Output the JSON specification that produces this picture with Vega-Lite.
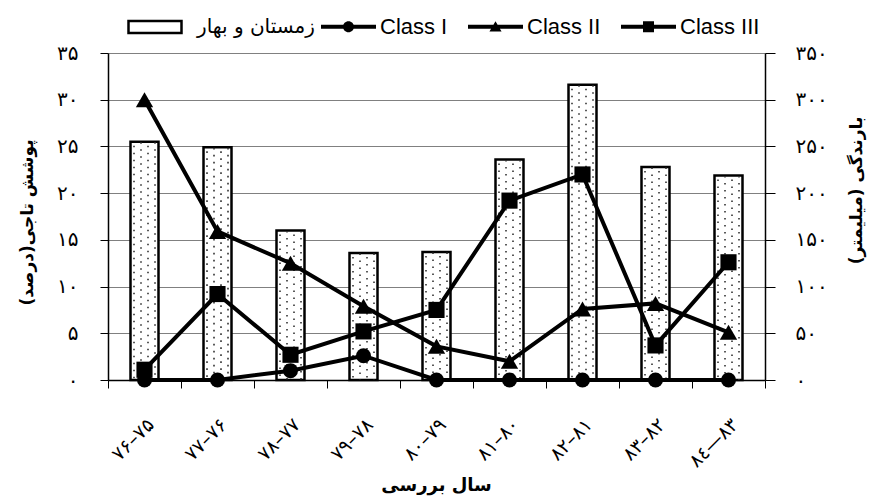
{
  "$schema": "https://vega.github.io/schema/vega-lite/v6.json",
  "width": 657,
  "height": 327,
  "autosize": {"type": "none"},
  "padding": {"left": 108, "top": 53, "right": 112, "bottom": 118},
  "background": "white",
  "config": {
    "font": "Liberation Sans, DejaVu Sans",
    "view": {"stroke": null},
    "axis": {"labelColor": "black", "titleColor": "black", "domainColor": "black", "tickColor": "black"}
  },
  "datasets": {
    "rain": [
      {"period": "۷۶–۷۵", "rain": 255, "type": "زمستان و بهار"},
      {"period": "۷۷–۷۶", "rain": 249, "type": "زمستان و بهار"},
      {"period": "۷۸–۷۷", "rain": 160, "type": "زمستان و بهار"},
      {"period": "۷۹–۷۸", "rain": 136, "type": "زمستان و بهار"},
      {"period": "۸۰–۷۹", "rain": 137, "type": "زمستان و بهار"},
      {"period": "۸۱–۸۰", "rain": 236, "type": "زمستان و بهار"},
      {"period": "۸۲–۸۱", "rain": 316, "type": "زمستان و بهار"},
      {"period": "۸۳–۸۲", "rain": 228, "type": "زمستان و بهار"},
      {"period": "۸٤—۸۳", "rain": 219, "type": "زمستان و بهار"}
    ],
    "cover": [
      {"period": "۷۶–۷۵", "series": "Class I", "value": 0},
      {"period": "۷۷–۷۶", "series": "Class I", "value": 0},
      {"period": "۷۸–۷۷", "series": "Class I", "value": 1.0},
      {"period": "۷۹–۷۸", "series": "Class I", "value": 2.6},
      {"period": "۸۰–۷۹", "series": "Class I", "value": 0},
      {"period": "۸۱–۸۰", "series": "Class I", "value": 0},
      {"period": "۸۲–۸۱", "series": "Class I", "value": 0},
      {"period": "۸۳–۸۲", "series": "Class I", "value": 0},
      {"period": "۸٤—۸۳", "series": "Class I", "value": 0},
      {"period": "۷۶–۷۵", "series": "Class II", "value": 30.0},
      {"period": "۷۷–۷۶", "series": "Class II", "value": 15.9},
      {"period": "۷۸–۷۷", "series": "Class II", "value": 12.5},
      {"period": "۷۹–۷۸", "series": "Class II", "value": 7.9},
      {"period": "۸۰–۷۹", "series": "Class II", "value": 3.6},
      {"period": "۸۱–۸۰", "series": "Class II", "value": 2.0},
      {"period": "۸۲–۸۱", "series": "Class II", "value": 7.6},
      {"period": "۸۳–۸۲", "series": "Class II", "value": 8.2},
      {"period": "۸٤—۸۳", "series": "Class II", "value": 5.1},
      {"period": "۷۶–۷۵", "series": "Class III", "value": 1.1},
      {"period": "۷۷–۷۶", "series": "Class III", "value": 9.2},
      {"period": "۷۸–۷۷", "series": "Class III", "value": 2.7},
      {"period": "۷۹–۷۸", "series": "Class III", "value": 5.2},
      {"period": "۸۰–۷۹", "series": "Class III", "value": 7.5},
      {"period": "۸۱–۸۰", "series": "Class III", "value": 19.2},
      {"period": "۸۲–۸۱", "series": "Class III", "value": 22.0},
      {"period": "۸۳–۸۲", "series": "Class III", "value": 3.7},
      {"period": "۸٤—۸۳", "series": "Class III", "value": 12.6}
    ]
  },
  "encoding": {
    "x": {
      "field": "period",
      "type": "nominal",
      "sort": null,
      "scale": {"paddingInner": 0, "paddingOuter": 0},
      "axis": {
        "title": "سال بررسی",
        "titleFontSize": 18,
        "titleFontWeight": "bold",
        "titleFont": "DejaVu Sans",
        "titleX": 328,
        "titleY": 105,
        "titleAlign": "center",
        "titleBaseline": "middle",
        "labelAngle": 315,
        "labelFontSize": 19,
        "labelFont": "DejaVu Sans",
        "labelPadding": 27,
        "domainWidth": 1.5,
        "tickSize": 8,
        "tickWidth": 1,
        "bandPosition": 1,
        "tickExtra": true,
        "grid": false
      }
    }
  },
  "layer": [
    {
      "data": {"name": "rain"},
      "encoding": {
        "y": {
          "field": "rain",
          "type": "quantitative",
          "scale": {"domain": [0, 350], "nice": false},
          "axis": {
            "orient": "right",
            "values": [0, 50, 100, 150, 200, 250, 300, 350],
            "grid": false,
            "domainWidth": 1.5,
            "tickSize": 10,
            "labelPadding": 20,
            "labelAlign": "left",
            "labelFontSize": 20,
            "labelFont": "DejaVu Sans",
            "labelExpr": "replace(replace(replace(replace(replace(datum.label, regexp('0','g'), '۰'), regexp('1','g'), '۱'), regexp('2','g'), '۲'), regexp('3','g'), '۳'), regexp('5','g'), '۵')",
            "title": "بارندگی (میلیمتر)",
            "titleFont": "DejaVu Sans",
            "titleFontSize": 17,
            "titleFontWeight": "bold",
            "titleAngle": 270,
            "titleX": 91,
            "titleY": 137,
            "titleAlign": "center",
            "titleBaseline": "middle"
          }
        }
      },
      "layer": [
        {
          "mark": {"type": "bar", "size": 28, "stroke": "black", "strokeWidth": 2.5},
          "encoding": {
            "fill": {
              "field": "type",
              "type": "nominal",
              "scale": {"range": ["white"]},
              "legend": {
                "orient": "none",
                "legendX": 19,
                "legendY": -54,
                "title": null,
                "padding": 0,
                "symbolType": "M-1,-0.226H1V0.226H-1Z",
                "symbolSize": 2809,
                "symbolStrokeColor": "black",
                "symbolStrokeWidth": 2.5,
                "labelFontSize": 20,
                "labelFont": "DejaVu Sans",
                "labelColor": "black",
                "labelOffset": 14
              }
            }
          }
        },
        {
          "mark": {"type": "rule", "xOffset": -10.5, "strokeDash": [1.6, 5.4], "strokeDashOffset": -4, "strokeWidth": 1.6, "color": "#333333"},
          "encoding": {"y2": {"datum": 0}}
        },
        {
          "mark": {"type": "rule", "xOffset": -3.5, "strokeDash": [1.6, 5.4], "strokeDashOffset": -7.5, "strokeWidth": 1.6, "color": "#333333"},
          "encoding": {"y2": {"datum": 0}}
        },
        {
          "mark": {"type": "rule", "xOffset": 3.5, "strokeDash": [1.6, 5.4], "strokeDashOffset": -4, "strokeWidth": 1.6, "color": "#333333"},
          "encoding": {"y2": {"datum": 0}}
        },
        {
          "mark": {"type": "rule", "xOffset": 10.5, "strokeDash": [1.6, 5.4], "strokeDashOffset": -7.5, "strokeWidth": 1.6, "color": "#333333"},
          "encoding": {"y2": {"datum": 0}}
        }
      ]
    },
    {
      "data": {"name": "cover"},
      "encoding": {
        "y": {
          "field": "value",
          "type": "quantitative",
          "scale": {"domain": [0, 35], "nice": false},
          "axis": {
            "orient": "left",
            "values": [0, 5, 10, 15, 20, 25, 30, 35],
            "grid": true,
            "gridColor": "#808080",
            "gridWidth": 1,
            "domainWidth": 1.5,
            "tickSize": 8,
            "labelPadding": 22,
            "labelFontSize": 20,
            "labelFont": "DejaVu Sans",
            "labelExpr": "replace(replace(replace(replace(replace(datum.label, regexp('0','g'), '۰'), regexp('1','g'), '۱'), regexp('2','g'), '۲'), regexp('3','g'), '۳'), regexp('5','g'), '۵')",
            "title": "پوشش تاجی(درصد)",
            "titleFont": "DejaVu Sans",
            "titleFontSize": 17,
            "titleFontWeight": "bold",
            "titleAngle": 270,
            "titleX": -81,
            "titleY": 169,
            "titleAlign": "center",
            "titleBaseline": "middle"
          }
        }
      },
      "layer": [
        {
          "mark": {"type": "line", "color": "black", "strokeWidth": 4},
          "encoding": {"detail": {"field": "series", "type": "nominal"}}
        },
        {
          "transform": [{"filter": "datum.series === 'Class I'"}],
          "mark": {"type": "point", "filled": true, "color": "black", "opacity": 1, "shape": "circle", "size": 225}
        },
        {
          "transform": [{"filter": "datum.series === 'Class II'"}],
          "mark": {"type": "point", "filled": true, "color": "black", "opacity": 1, "shape": "triangle-up", "size": 300}
        },
        {
          "transform": [{"filter": "datum.series === 'Class III'"}],
          "mark": {"type": "point", "filled": true, "color": "black", "opacity": 1, "shape": "square", "size": 260}
        },
        {
          "mark": {"type": "point", "filled": true, "color": "black", "opacity": 1, "size": 0},
          "encoding": {
            "shape": {
              "field": "series",
              "type": "nominal",
              "scale": {
                "domain": ["Class I", "Class II", "Class III"],
                "range": [
                  "M-1,-0.073H1V0.073H-1Z M0.2,0A0.2,0.2 0 1,1 -0.2,0A0.2,0.2 0 1,1 0.2,0Z",
                  "M-1,-0.073H1V0.073H-1Z M0,-0.2L0.22,0.17L-0.22,0.17Z",
                  "M-1,-0.073H1V0.073H-1Z M-0.2,-0.2H0.2V0.2H-0.2Z"
                ]
              },
              "legend": {
                "orient": "none",
                "legendX": 212,
                "legendY": -55,
                "direction": "horizontal",
                "title": null,
                "padding": 0,
                "symbolSize": 3025,
                "symbolFillColor": "black",
                "symbolOpacity": 1,
                "labelFontSize": 22,
                "labelFont": "Liberation Sans",
                "labelColor": "black",
                "labelOffset": 3,
                "columnPadding": 17
              }
            }
          }
        }
      ]
    }
  ],
  "resolve": {"scale": {"y": "independent"}}
}
